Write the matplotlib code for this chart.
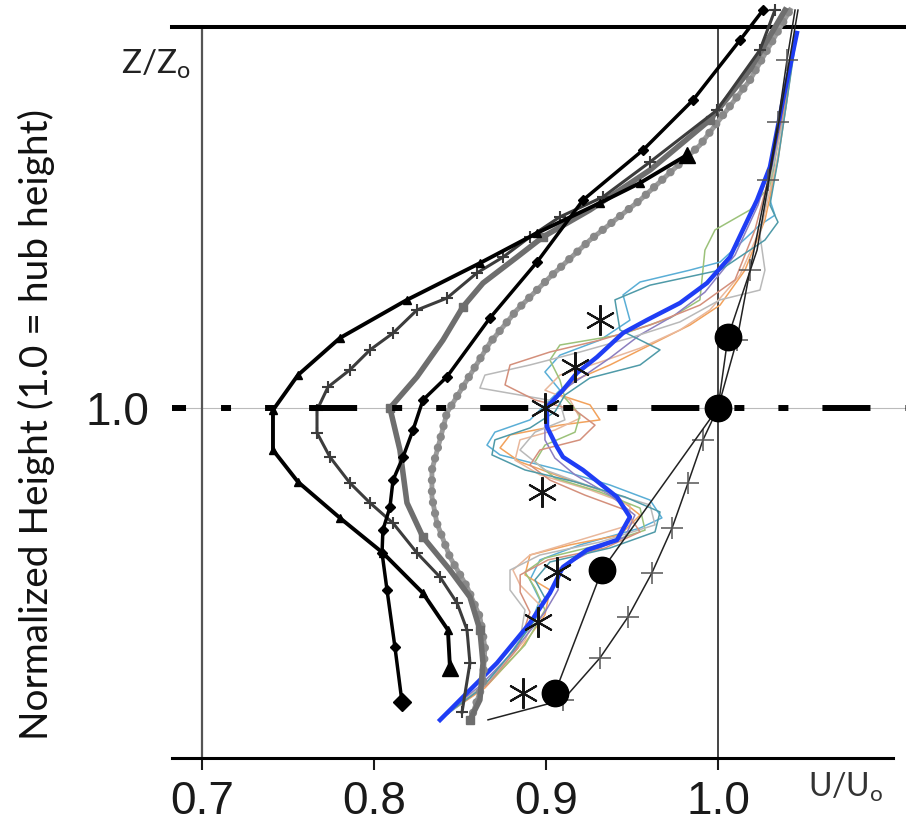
import matplotlib.pyplot as plt

plt.rcParams['font.family'] = ['Liberation Sans', 'DejaVu Sans']
plt.rcParams['lines.scale_dashes'] = False

# values: U/Uo (x) against z/zo (y)
hub = 1.0
x_ticks = [0.7, 0.8, 0.9, 1.0]
x_labels = ['0.7', '0.8', '0.9', '1.0']

# black, small triangles
tri_u = [0.8442, 0.843, 0.8285, 0.8052, 0.7802, 0.7558, 0.7413, 0.7413, 0.7558,
         0.7802, 0.8192, 0.8616, 0.8948, 0.9314, 0.9547, 0.982]
tri_z = [0.257, 0.366, 0.471, 0.586, 0.686, 0.789, 0.88, 0.994, 1.094,
         1.2, 1.309, 1.414, 1.5, 1.586, 1.643, 1.723]

# dark grey, crosses
crs_u = [0.8512, 0.8558, 0.8541, 0.8483, 0.8384, 0.825, 0.8111, 0.7977, 0.786,
         0.7744, 0.7669, 0.7669, 0.7733, 0.786, 0.7977, 0.8111, 0.825, 0.8424,
         0.8599, 0.875, 0.8907, 0.9081, 0.9331, 0.9605, 0.9994, 1.0244, 1.0331]
crs_z = [0.131, 0.271, 0.366, 0.443, 0.517, 0.586, 0.671, 0.729, 0.786,
         0.86, 0.929, 0.994, 1.06, 1.109, 1.166, 1.214, 1.28, 1.314,
         1.386, 1.431, 1.489, 1.546, 1.603, 1.703, 1.851, 2.023, 2.137]

# grey, squares
sq_u = [0.8558, 0.8616, 0.8634, 0.8616, 0.8558, 0.8442, 0.8285, 0.8192, 0.8151,
        0.8093, 0.825, 0.8401, 0.8517, 0.8634, 0.8831, 0.8983, 0.9256, 0.9605,
        0.9953, 1.0186, 1.039]
sq_z = [0.109, 0.166, 0.271, 0.366, 0.46, 0.537, 0.631, 0.729, 0.88,
        1.0, 1.089, 1.194, 1.289, 1.357, 1.431, 1.489, 1.566, 1.68,
        1.823, 1.966, 2.137]

# black, diamonds
dia_u = [0.8163, 0.8122, 0.8076, 0.8047, 0.8052, 0.8093, 0.8111, 0.8169, 0.8227,
         0.8285, 0.8424, 0.8674, 0.8948, 0.9215, 0.9564, 0.9855, 1.0128, 1.0262]
dia_z = [0.16, 0.317, 0.48, 0.586, 0.651, 0.717, 0.794, 0.86, 0.937,
         1.023, 1.089, 1.257, 1.417, 1.594, 1.737, 1.88, 2.051, 2.137]

# light grey, dots
dot_u = [0.8576, 0.8634, 0.8645, 0.8616, 0.8541, 0.8442, 0.8366, 0.8337, 0.8337,
         0.8384, 0.8424, 0.8541, 0.8674, 0.8831, 0.9023, 0.9256, 0.9547, 0.9895,
         1.0186, 1.0419]
dot_z = [0.129, 0.214, 0.317, 0.403, 0.489, 0.574, 0.671, 0.746, 0.823,
         0.909, 0.986, 1.08, 1.186, 1.28, 1.374, 1.48, 1.594, 1.751,
         1.937, 2.137]

# measured profiles (thin coloured lines)
blue_u = [0.8384, 0.8558, 0.8715, 0.8907, 0.9023, 0.9099, 0.9238, 0.9413, 0.9488,
          0.9413, 0.9215, 0.9099, 0.9064, 0.9006, 0.9006, 0.9099, 0.918, 0.9297,
          0.9448, 0.9587, 0.9779, 0.9936, 1.007, 1.0227, 1.0302, 1.0378, 1.0459]
blue_z = [0.1086, 0.1943, 0.2714, 0.3857, 0.4714, 0.5457, 0.5943, 0.6229, 0.6886,
          0.7457, 0.8229, 0.86, 0.8886, 0.9457, 1.0029, 1.0514, 1.1, 1.1457,
          1.2143, 1.2514, 1.3, 1.3571, 1.4314, 1.5943, 1.6886, 1.88, 2.0714]
lblue_u = [0.8395, 0.8616, 0.879, 0.8907, 0.8965, 0.8907, 0.8965, 0.9198, 0.9547,
           0.9674, 0.9605, 0.9372, 0.9081, 0.8733, 0.8657, 0.8703, 0.8907, 0.8994,
           0.9081, 0.8994, 0.9081, 0.9314, 0.9488, 0.9448, 0.9547, 0.9837, 1.0012,
           1.0244, 1.0331, 1.0302, 1.0331, 1.039, 1.0459]
lblue_z = [0.114, 0.194, 0.294, 0.38, 0.451, 0.509, 0.566, 0.609, 0.657,
           0.686, 0.737, 0.78, 0.823, 0.866, 0.894, 0.931, 0.966, 1.009,
           1.051, 1.103, 1.151, 1.194, 1.251, 1.323, 1.36, 1.394, 1.417,
           1.523, 1.551, 1.594, 1.709, 1.88, 2.071]
orange_u = [0.8413, 0.8645, 0.8849, 0.8994, 0.9023, 0.8878, 0.8907, 0.914, 0.943,
            0.9547, 0.9401, 0.914, 0.8849, 0.8733, 0.8791, 0.9081, 0.9314, 0.9256,
            0.9081, 0.9169, 0.9372, 0.9605, 0.9837, 1.0012, 1.0157, 1.0273, 1.0349,
            1.0401, 1.0453]
orange_z = [0.123, 0.2, 0.309, 0.409, 0.48, 0.523, 0.58, 0.609, 0.637,
            0.694, 0.751, 0.794, 0.846, 0.886, 0.923, 0.951, 0.966, 1.009,
            1.037, 1.08, 1.123, 1.18, 1.237, 1.294, 1.394, 1.537, 1.709,
            1.88, 2.071]
peach_u = [0.8424, 0.8674, 0.8878, 0.8965, 0.885, 0.8808, 0.8907, 0.9198, 0.9488,
           0.9488, 0.9256, 0.8965, 0.882, 0.8849, 0.9052, 0.9198, 0.914, 0.8994,
           0.9081, 0.9314, 0.9547, 0.9779, 0.9953, 1.0128, 1.0256, 1.0343, 1.0401,
           1.0453]
peach_z = [0.131, 0.223, 0.337, 0.437, 0.494, 0.537, 0.58, 0.623, 0.666,
           0.723, 0.766, 0.809, 0.851, 0.909, 0.937, 0.971, 1.023, 1.051,
           1.094, 1.131, 1.171, 1.223, 1.28, 1.38, 1.523, 1.709, 1.88, 2.071]
green_u = [0.8442, 0.8674, 0.8878, 0.8994, 0.8936, 0.8878, 0.8994, 0.9314, 0.9576,
           0.9547, 0.9314, 0.9052, 0.8936, 0.8994, 0.9169, 0.9198, 0.911, 0.9081,
           0.9023, 0.9081, 0.943, 0.9721, 0.9895, 0.9924, 0.9983, 1.0186, 1.0302,
           1.0372, 1.0448]
green_z = [0.137, 0.217, 0.323, 0.423, 0.486, 0.531, 0.571, 0.609, 0.651,
           0.714, 0.76, 0.8, 0.846, 0.894, 0.931, 0.98, 1.029, 1.08,
           1.137, 1.18, 1.209, 1.257, 1.309, 1.451, 1.509, 1.566, 1.637,
           1.823, 2.071]
purple_u = [0.8401, 0.8616, 0.882, 0.8994, 0.907, 0.9081, 0.9256, 0.9459, 0.9517,
            0.9372, 0.9169, 0.9052, 0.8994, 0.8994, 0.9081, 0.9227, 0.9372, 0.9547,
            0.975, 0.9924, 1.0099, 1.0233, 1.0314, 1.039, 1.0459]
purple_z = [0.12, 0.206, 0.309, 0.417, 0.48, 0.543, 0.589, 0.631, 0.694,
            0.751, 0.809, 0.857, 0.909, 0.994, 1.046, 1.094, 1.143, 1.209,
            1.266, 1.331, 1.437, 1.58, 1.709, 1.88, 2.071]
grey_u = [0.843, 0.8703, 0.8849, 0.8878, 0.8791, 0.8791, 0.8965, 0.9314, 0.9634,
          0.9605, 0.9314, 0.8994, 0.8849, 0.8936, 0.911, 0.9081, 0.8849, 0.8616,
          0.8645, 0.8907, 0.9198, 0.9488, 0.9779, 1.0012, 1.0244, 1.0273, 1.0244,
          1.0302, 1.039, 1.0453]
grey_z = [0.126, 0.237, 0.337, 0.423, 0.48, 0.537, 0.58, 0.617, 0.666,
          0.723, 0.766, 0.823, 0.88, 0.931, 0.966, 1.017, 1.037, 1.057,
          1.094, 1.123, 1.16, 1.2, 1.246, 1.309, 1.337, 1.394, 1.494,
          1.651, 1.851, 2.071]
pink_u = [0.8419, 0.8663, 0.8837, 0.8907, 0.885, 0.885, 0.9012, 0.9343, 0.9547,
          0.9459, 0.9227, 0.9023, 0.8907, 0.8965, 0.9198, 0.9285, 0.9169, 0.8936,
          0.8762, 0.8791, 0.9023, 0.9314, 0.9605, 0.9895, 1.0099, 1.0215, 1.0314,
          1.0395, 1.0453]
pink_z = [0.126, 0.211, 0.314, 0.417, 0.474, 0.523, 0.566, 0.6, 0.646,
          0.709, 0.751, 0.794, 0.837, 0.88, 0.909, 0.951, 0.994, 1.023,
          1.066, 1.123, 1.16, 1.194, 1.237, 1.294, 1.366, 1.509, 1.694,
          1.88, 2.071]
teal_u = [0.8407, 0.8628, 0.8802, 0.8936, 0.8994, 0.8936, 0.9023, 0.9372, 0.9634,
          0.9663, 0.9459, 0.9169, 0.8878, 0.8686, 0.8703, 0.8907, 0.9052, 0.911,
          0.9256, 0.9547, 0.9663, 0.943, 0.9401, 0.9605, 1.0012, 1.0273, 1.0349,
          1.0302, 1.0349, 1.0401, 1.0459]
teal_z = [0.12, 0.2, 0.303, 0.394, 0.457, 0.509, 0.56, 0.6, 0.646,
          0.703, 0.746, 0.789, 0.823, 0.866, 0.909, 0.943, 0.989, 1.037,
          1.086, 1.123, 1.166, 1.223, 1.309, 1.351, 1.394, 1.48, 1.531,
          1.58, 1.709, 1.88, 2.071]

# asterisks
star_u = [0.8866, 0.8953, 0.9064, 0.8977, 0.8994, 0.9169, 0.9314]
star_z = [0.186, 0.389, 0.531, 0.76, 1.0, 1.117, 1.251]

# big dots joined by a thin line (last two points: line only)
circ_u = [0.9052, 0.9326, 1.0, 1.0058, 1.0227, 1.0465]
circ_z = [0.186, 0.537, 1.0, 1.203, 1.451, 2.137]

# plus signs on a thin curve
plus_u = [0.8663, 0.9099, 0.9314, 0.9477, 0.9616, 0.9733, 0.9826, 0.9913, 1.0,
          1.011, 1.0186, 1.0291, 1.0349, 1.0401, 1.0448]
plus_z = [0.109, 0.166, 0.286, 0.403, 0.529, 0.657, 0.786, 0.909, 1.0,
          1.194, 1.394, 1.651, 1.817, 1.994, 2.137]

fig = plt.figure(figsize=(9.06, 8.34), dpi=100)
ax = fig.add_axes([172 / 906, 76 / 834, 734 / 906, 731 / 834])
ax.set_xlim(0.6826, 1.1093)
ax.set_ylim(0, 2.0886)

# coloured measured profiles
bundle = [(lblue_u, lblue_z, '#5aaed6'), (orange_u, orange_z, '#f2a25c'),
          (peach_u, peach_z, '#e9b89c'), (green_u, green_z, '#9cc27a'),
          (purple_u, purple_z, '#8c7fc0'), (grey_u, grey_z, '#b9b9b9'),
          (pink_u, pink_z, '#d4907c'), (teal_u, teal_z, '#4f9aa8')]
for u, z, c in bundle:
    ax.plot(u, z, color=c, lw=1.1, zorder=3, clip_on=False,
            solid_joinstyle='round')
ax.plot(blue_u, blue_z, color='#1f3df5', lw=3.2, zorder=3.5, clip_on=False,
        solid_joinstyle='round')

# model profiles
ax.plot(dot_u, dot_z, color='#9a9a9a', lw=3.5, zorder=4, clip_on=False)
ax.plot(dot_u, dot_z, color='#888888', lw=6, zorder=4, clip_on=False,
        linestyle=(0, (0.01, 8)), dash_capstyle='round')
ax.plot(sq_u, sq_z, color='#6e6e6e', lw=4, marker='s', ms=6, markevery=3,
        zorder=4.2, clip_on=False)
ax.plot(crs_u, crs_z, color='#3c3c3c', lw=2.2, marker='+', ms=8, mew=1.5,
        zorder=4.4, clip_on=False)
ax.plot(dia_u, dia_z, color='black', lw=2.5, marker='D', ms=5, zorder=4.6,
        clip_on=False)
ax.plot(dia_u[:1], dia_z[:1], 'kD', ms=9, zorder=4.6)
ax.plot(tri_u, tri_z, color='black', lw=2.8, marker='^', ms=6, zorder=4.8,
        clip_on=False)
ax.plot([tri_u[0], tri_u[-1]], [tri_z[0], tri_z[-1]], 'k^', ms=11, zorder=4.8,
        clip_on=False)

# hub-height line
ax.axhline(hub, color='#bbbbbb', lw=0.8, zorder=2)
ax.axhline(hub, color='black', lw=4.3, zorder=6, dash_capstyle='butt',
           linestyle=(24.5, (34.6, 25.2, 7.2, 24.5, 7.2, 24.5)))

# thin black curves and markers
ax.plot(plus_u, plus_z, color='#222222', lw=1.1, zorder=7, clip_on=False)
ax.plot(plus_u[1:8] + plus_u[9:14], plus_z[1:8] + plus_z[9:14], ls='none',
        marker='+', ms=16, mew=1.1, color='#555555', zorder=7)
ax.plot(circ_u, circ_z, color='#222222', lw=1.1, zorder=7, clip_on=False)
ax.plot(circ_u[:4], circ_z[:4], 'ko', ms=19, zorder=8)
ax.plot(star_u, star_z, ls='none', marker=(6, 2, 0), ms=22, mew=1.5,
        color='#151515', zorder=8)

# frame
ax.axvline(x_ticks[0], color='#555555', lw=1.6, zorder=2)
ax.axvline(x_ticks[-1], color='#444444', lw=1.4, zorder=2)
for s in ['left', 'right']:
    ax.spines[s].set_visible(False)
ax.spines['top'].set_linewidth(2.9)
ax.spines['bottom'].set_linewidth(2.2)
ax.spines['bottom'].set_bounds(0.6826, 1.1017)

ax.set_xticks(x_ticks, x_labels)
ax.set_yticks([hub], ['1.0'])
ax.tick_params(axis='x', direction='out', length=8.5, width=1.5, pad=7,
               labelsize=33, colors='#1a1a1a')
ax.tick_params(axis='y', length=0, pad=16, labelsize=33, colors='#1a1a1a')

fig.text(36 / 906, 1 - 425 / 834, 'Normalized Height (1.0 = hub height)',
         rotation=90, ha='center', va='center', fontsize=28, family='Lato',
         color='#111111')
fig.text(121 / 906, 1 - 64 / 834, r'Z/Z$_\mathregular{o}$', ha='left',
         va='center', fontsize=24, family='Lato', color='#222222')
fig.text(808 / 906, 1 - 787 / 834, r'U/U$_\mathregular{o}$', ha='left',
         va='center', fontsize=23, family='Lato', color='#333333')

fig.savefig('out.png', dpi=100)
